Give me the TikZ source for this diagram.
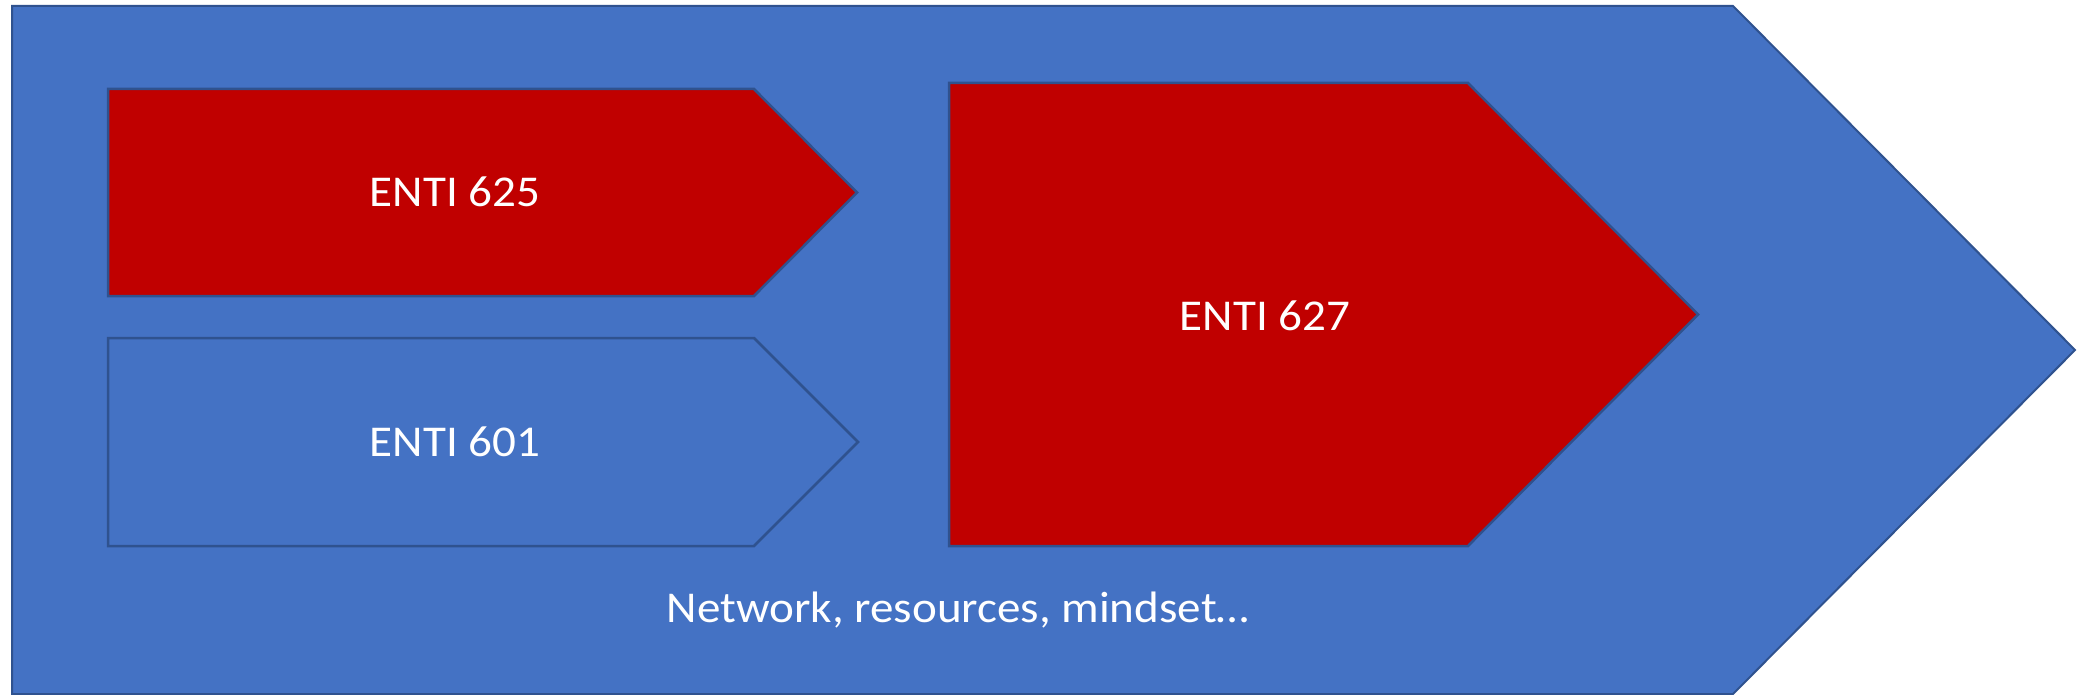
\documentclass[tikz,border=0pt]{standalone}
\usepackage{fontspec}
\setmainfont[FakeStretch=1.07]{Carlito}
\usetikzlibrary{calc}
\definecolor{chevblue}{HTML}{4472C4}
\definecolor{chevline}{HTML}{2F528F}
\definecolor{chevred}{HTML}{C00000}

\begin{document}
\begin{tikzpicture}[x=1pt, y=-1pt, line join=miter,
  chev/.style={draw=chevline, line width=2.5pt},
  lbl/.style={text=white, inner sep=0pt, font=\fontsize{44}{52}\selectfont}]
\useasboundingbox (0,0) rectangle (2077,695);

% outer arrow
\coordinate (A) at (12,6);
\coordinate (B) at (1733,6);
\coordinate (C) at (2075,350);
\coordinate (D) at (1733,694);
\coordinate (E) at (12,694);
\draw[chev, line width=2pt, fill=chevblue] (A) -- (B) -- (C) -- (D) -- (E) -- cycle;

% ENTI 625
\draw[chev, fill=chevred] (108,89) -- (754,89) -- (857,192.5) -- (754,296) -- (108,296) -- cycle;
% ENTI 601
\draw[chev] (108,338) -- (754,338) -- (858,442) -- (754,546) -- (108,546) -- cycle;
% ENTI 627
\draw[chev, fill=chevred] (949,83) -- (1468,83) -- (1698,314.5) -- (1468,546) -- (949,546) -- cycle;

\node[lbl] (t625) at (455,192) {ENTI 625};
\node[lbl] (t601) at (455,442) {ENTI 601};
\node[lbl] (t627) at (1265,315.5) {ENTI 627};
\node[lbl, anchor=base] (tnet) at (958,622) {Network, resources, mindset…};
\end{tikzpicture}
\end{document}
